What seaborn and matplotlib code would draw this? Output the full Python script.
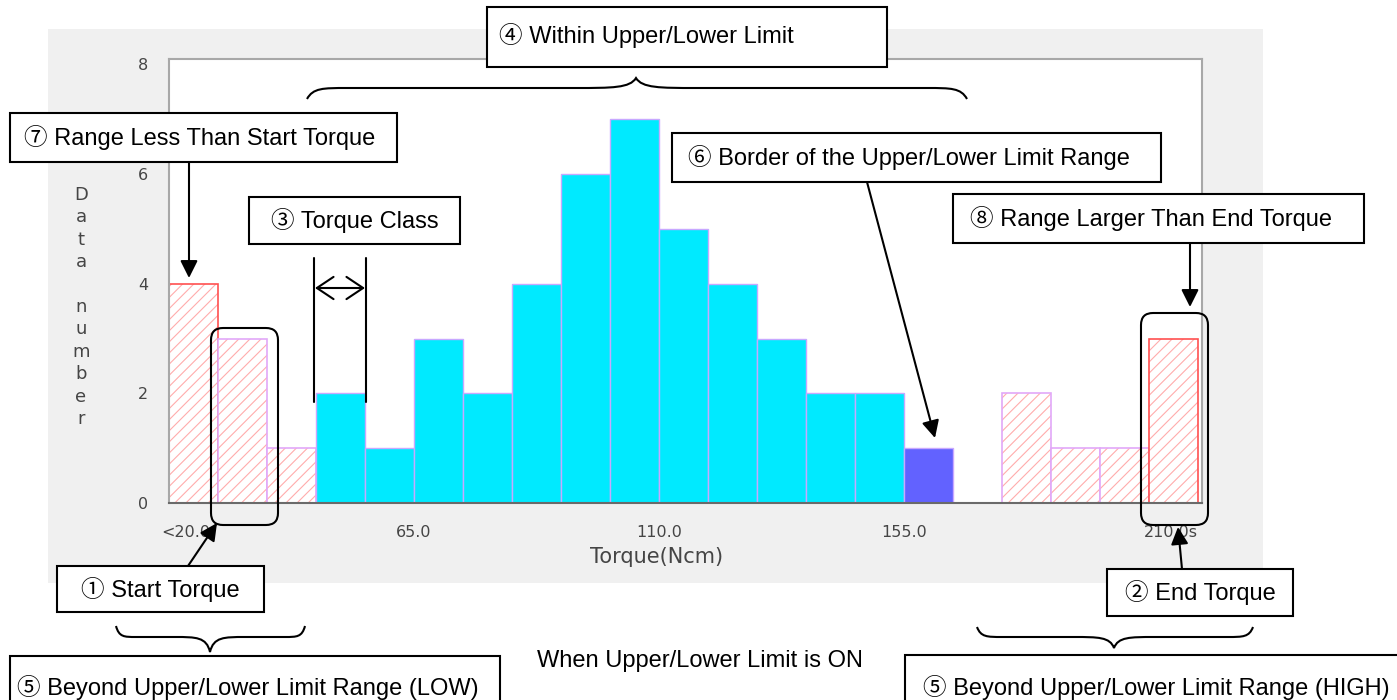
import matplotlib
matplotlib.use("Agg")
import matplotlib.pyplot as plt
import matplotlib.colors as mcolors
import matplotlib.transforms as mtransforms
from matplotlib.patches import Rectangle, FancyBboxPatch, FancyArrowPatch, PathPatch
from matplotlib.path import Path
import pandas as pd
import seaborn as sns

W, H = 1397, 700

# histogram values (21 torque classes)
counts = [4, 3, 1, 2, 1, 3, 2, 4, 6, 7, 5, 4, 3, 2, 2, 1, 0, 2, 1, 1, 3]
zones = (["below"] + ["low"] * 2 + ["within"] * 12 + ["border"]
         + ["high"] * 4 + ["above"])
x_tick_labels = ["<20.0", "65.0", "110.0", "155.0", "210.0s"]
y_ticks = [0, 2, 4, 6, 8]
x_title = "Torque(Ncm)"
y_title = "Data number"

sns.set_theme(style="white")
plt.rcParams["font.family"] = ["Liberation Sans", "Noto Sans CJK JP", "DejaVu Sans"]
plt.rcParams["hatch.linewidth"] = 0.8

fig = plt.figure(figsize=(W / 100, H / 100), dpi=100)
fig.patch.set_facecolor("white")

# pixel coordinates, origin top-left
px = mtransforms.Affine2D().scale(1 / 100, -1 / 100).translate(0, H / 100) + fig.dpi_scale_trans

# gray window panel behind the chart
fig.add_artist(Rectangle((48, 29), 1263 - 48, 583 - 29, transform=px,
                         facecolor="#f0f0f0", edgecolor="none", zorder=-1))

ax = fig.add_axes([169 / W, (H - 503) / H, (1202 - 169) / W, (503 - 59) / H])
ax.set_facecolor("white")

df = pd.DataFrame({"bin": range(len(counts)), "count": counts, "zone": zones})
palette = {"below": "white", "low": "white", "within": "#00eaff",
           "border": "#6262ff", "high": "white", "above": "white"}
sns.barplot(data=df, x="bin", y="count", hue="zone", palette=palette,
            dodge=False, width=1.0, legend=False, saturation=1, ax=ax)

hatch_pink = mcolors.to_rgba("#ffacac")
for p in ax.patches:
    i = int(round(p.get_x() + p.get_width() / 2))
    z = zones[i]
    if z in ("below", "above"):
        p.set_edgecolor("#ff5050")
        p.set_linewidth(1.2)
    elif z in ("low", "high"):
        p.set_edgecolor("#e2a8f8")
        p.set_linewidth(1.2)
    else:
        p.set_edgecolor("#c8a8ff")
        p.set_linewidth(1.0)
    if z not in ("within", "border"):
        p.set_hatch("///")
        if hasattr(p, "set_hatchcolor"):
            p.set_hatchcolor(hatch_pink)
        else:
            p._hatch_color = hatch_pink

ax.set_xlim(-0.5, 20.58)
ax.set_ylim(0, 8.1)
ax.set_xticks([-0.15, 4.5, 9.5, 14.5, 19.95], x_tick_labels)
ax.set_yticks(y_ticks, [str(v) for v in y_ticks])
ax.tick_params(length=0, labelcolor="#454545", labelsize=11.5)
ax.tick_params(axis="x", pad=16)
ax.tick_params(axis="y", pad=15)
for lab in ax.get_xticklabels() + ax.get_yticklabels():
    lab.set_family("DejaVu Sans")
ax.set_xlabel(x_title, family="DejaVu Sans", fontsize=15, color="#454545")
ax.xaxis.set_label_coords(0.472, -0.1)
ax.set_ylabel("")
for side in ["top", "left", "right"]:
    ax.spines[side].set_color("#a8a8a8")
    ax.spines[side].set_linewidth(1.5)
ax.spines["bottom"].set_color("#6a6a6a")
ax.spines["bottom"].set_linewidth(1.5)

# stacked vertical y title
for k, ch in enumerate(y_title):
    fig.text(81, 195 + k * 22.4, ch, transform=px, ha="center", va="center",
             family="DejaVu Sans", fontsize=13, color="#454545")

LW = 1.5


def box(x0, y0, x1, y1, text, tx=None, ty=None, ha="left"):
    fig.add_artist(Rectangle((x0, y0), x1 - x0, y1 - y0, transform=px,
                             facecolor="white", edgecolor="black", lw=LW, zorder=5))
    fig.text(tx, ty if ty is not None else (y0 + y1) / 2, text, transform=px,
             ha=ha, va="center", fontsize=17, color="black", zorder=6)


def arrow(a, b, style="-|>,head_length=0.7,head_width=0.35", scale=15):
    fig.add_artist(FancyArrowPatch(a, b, transform=px, arrowstyle=style,
                                   mutation_scale=scale, lw=LW, color="black",
                                   shrinkA=0, shrinkB=0, zorder=7))


def brace(x0, x1, xm, y_end, y_line, y_tip, r_end, r_tip):
    verts = [(x0, y_end), (x0 + 0.15 * r_end, y_line), (x0 + 0.4 * r_end, y_line),
             (x0 + r_end, y_line), (xm - r_tip, y_line),
             (xm - 0.4 * r_tip, y_line), (xm - 0.1 * r_tip, y_line), (xm, y_tip),
             (xm + 0.1 * r_tip, y_line), (xm + 0.4 * r_tip, y_line), (xm + r_tip, y_line),
             (x1 - r_end, y_line),
             (x1 - 0.4 * r_end, y_line), (x1 - 0.15 * r_end, y_line), (x1, y_end)]
    codes = ([Path.MOVETO] + [Path.CURVE4] * 3 + [Path.LINETO] + [Path.CURVE4] * 6
             + [Path.LINETO] + [Path.CURVE4] * 3)
    fig.add_artist(PathPatch(Path(verts, codes), transform=px, fill=False,
                             lw=LW, edgecolor="black", zorder=5))


def rounded(x0, y0, x1, y1):
    fig.add_artist(FancyBboxPatch((x0, y0), x1 - x0, y1 - y0, transform=px,
                                  boxstyle="round,pad=0,rounding_size=12",
                                  fill=False, edgecolor="black", lw=LW, zorder=5))


# ④ within limits
brace(307, 967, 636, 99, 88, 78, 40, 60)
box(487, 7, 887, 67, "④ Within Upper/Lower Limit", tx=499, ty=35)

# ⑦ range less than start torque
box(10, 113, 397, 162, "⑦ Range Less Than Start Torque", tx=24)
arrow((189, 162), (189, 278))

# ③ torque class
box(249, 197, 460, 244, "③ Torque Class", tx=354.5, ha="center")
for xv in (314, 366):
    fig.add_artist(plt.Line2D([xv, xv], [258, 402], transform=px, color="black",
                              lw=LW, zorder=5))
arrow((315, 288), (365, 288), style="<->,head_length=0.6,head_width=0.4", scale=20)

# ⑥ border of the limit range
box(672, 133, 1161, 182, "⑥ Border of the Upper/Lower Limit Range", tx=688)
arrow((867, 182), (935, 438))

# ⑧ range larger than end torque
box(953, 194, 1364, 243, "⑧ Range Larger Than End Torque", tx=970)
arrow((1190, 243), (1190, 307))

# start / end torque markers
rounded(211, 328, 278, 525)
rounded(1141, 313, 1208, 525)

box(57, 566, 264, 612, "① Start Torque", tx=160.5, ha="center")
arrow((188, 566), (217, 523))
box(1107, 569, 1293, 616, "② End Torque", tx=1200, ha="center")
arrow((1182, 569), (1178, 527))

# ⑤ beyond limits, low and high
brace(116, 305, 210, 626, 637, 652, 20, 35)
brace(977, 1253, 1114, 627, 637, 648, 25, 40)
box(10, 656, 500, 712, "⑤ Beyond Upper/Lower Limit Range (LOW)", tx=17, ty=688)
box(905, 655, 1405, 712, "⑤ Beyond Upper/Lower Limit Range (HIGH)", tx=1390, ty=688,
    ha="right")

fig.text(700, 661, "When Upper/Lower Limit is ON", transform=px, ha="center",
         va="center", fontsize=17, color="black")

fig.savefig("out.png", dpi=100)
